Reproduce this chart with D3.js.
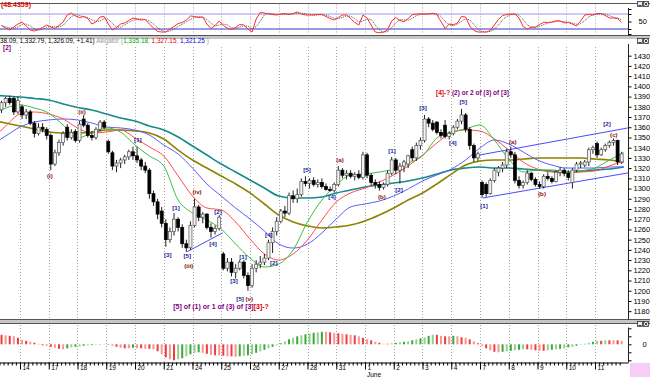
<!DOCTYPE html>
<html>
<head>
<meta charset="utf-8">
<script src="https://cdn.jsdelivr.net/npm/d3@7"></script>
<style>
  body { margin: 0; background: #fff; }
  svg { display: block; font-family: "Liberation Sans", Arial, sans-serif; }
</style>
</head>
<body>
<svg id="chart" width="650" height="377"></svg>
<script>
// trading days on the time axis, 7 hourly bars each
const days = ["13", "14", "17", "18", "19", "20", "21", "24", "25", "26", "27", "28", "31", "1", "2", "3", "4", "7", "8", "9", "10", "11"];
const barsPerDay = 7;
const firstBar = 2; // first two bars of the 13th are off screen

// hourly candles [open, high, low, close]
const candles = [
  [1377,1386,1374,1384],[1384,1390,1380,1388],[1388,1391,1382,1384],[1388,1390,1372,1375],[1375,1390,1373,1386],
  [1380,1382,1368,1372],[1372,1378,1368,1375],[1375,1377,1362,1364],[1364,1366,1350,1354],[1354,1364,1352,1360],[1360,1364,1355,1358],[1358,1360,1348,1352],
  [1352,1354,1318,1324],[1324,1338,1322,1335],[1335,1348,1332,1345],[1345,1356,1342,1354],[1360,1363,1347,1350],[1350,1358,1348,1355],[1356,1358,1345,1347],
  [1347,1366,1345,1363],[1368,1372,1360,1362],[1362,1364,1350,1352],[1352,1356,1347,1350],[1350,1360,1348,1358],[1358,1367,1356,1365],[1365,1367,1358,1360],
  [1346,1348,1334,1336],[1335,1337,1318,1322],[1322,1328,1316,1325],[1325,1330,1320,1328],[1328,1333,1324,1331],[1331,1338,1328,1336],[1336,1341,1328,1332],
  [1332,1341,1325,1328],[1328,1330,1318,1322],[1322,1326,1315,1318],[1318,1320,1290,1295],[1295,1298,1283,1287],[1287,1290,1270,1275],[1278,1282,1262,1266],
  [1266,1270,1243,1250],[1250,1262,1247,1258],[1258,1276,1254,1270],[1270,1272,1258,1262],[1262,1265,1242,1246],[1246,1250,1238,1242],[1242,1268,1240,1264],
  [1264,1290,1262,1282],[1282,1284,1268,1272],[1272,1277,1266,1275],[1275,1276,1260,1262],[1262,1266,1252,1258],[1258,1264,1255,1261],[1261,1274,1259,1272],
  [1236,1238,1220,1222],[1222,1232,1219,1228],[1228,1232,1214,1218],[1218,1226,1212,1222],[1222,1230,1220,1228],[1228,1230,1212,1215],[1215,1218,1200,1205],
  [1205,1226,1203,1222],[1222,1230,1218,1226],[1226,1234,1222,1228],[1228,1236,1225,1232],[1232,1250,1230,1247],[1247,1262,1237,1258],[1258,1272,1254,1268],
  [1268,1280,1266,1278],[1278,1283,1272,1276],[1276,1296,1274,1293],[1293,1298,1286,1290],[1290,1300,1286,1294],[1294,1310,1292,1307],[1307,1312,1302,1305],
  [1305,1310,1300,1308],[1308,1311,1302,1304],[1304,1309,1301,1306],[1306,1310,1300,1302],[1302,1305,1298,1299],[1299,1302,1297,1298],[1298,1306,1296,1304],
  [1304,1322,1302,1318],[1318,1320,1310,1313],[1313,1318,1309,1315],[1315,1318,1310,1312],[1312,1316,1308,1314],[1314,1318,1309,1311],[1311,1336,1309,1333],
  [1333,1335,1310,1313],[1313,1315,1303,1306],[1306,1309,1300,1304],[1304,1307,1298,1301],[1301,1306,1299,1304],[1304,1318,1302,1315],[1315,1331,1313,1328],
  [1328,1330,1314,1318],[1318,1325,1305,1322],[1322,1328,1316,1326],[1324,1333,1320,1332],[1338,1341,1327,1330],[1330,1345,1327,1342],[1342,1350,1338,1347],
  [1347,1372,1345,1368],[1368,1370,1360,1364],[1364,1367,1356,1358],[1365,1366,1353,1355],[1355,1358,1349,1352],[1362,1367,1349,1351],[1351,1356,1348,1354],
  [1354,1362,1352,1360],[1360,1368,1358,1366],[1366,1378,1363,1372],[1372,1374,1355,1358],[1358,1360,1338,1342],[1342,1344,1326,1330],[1330,1336,1327,1334],
  [1306,1308,1291,1294],[1304,1306,1292,1295],[1295,1310,1294,1308],[1308,1320,1306,1318],[1316,1322,1312,1320],[1320,1326,1316,1323],[1323,1339,1320,1336],
  [1336,1341,1330,1333],[1333,1336,1305,1308],[1308,1312,1300,1303],[1303,1308,1300,1306],[1306,1318,1304,1315],[1315,1316,1307,1309],[1309,1311,1302,1304],
  [1304,1307,1300,1302],[1302,1314,1300,1312],[1312,1316,1308,1310],[1310,1312,1305,1307],[1307,1318,1306,1316],[1316,1321,1312,1318],[1318,1320,1312,1315],
  [1315,1318,1308,1311],[1306,1320,1300,1318],[1318,1326,1316,1324],[1324,1327,1320,1325],[1323,1328,1321,1326],[1326,1340,1322,1338],[1338,1342,1334,1340],
  [1344,1346,1330,1333],[1333,1340,1332,1338],[1338,1344,1336,1342],[1342,1347,1340,1345],[1345,1349,1342,1347],[1347,1348,1323,1326],[1326,1336,1324,1334]
];

// stochastic %K per bar
const stochK = [
  34,24,16,28,40, 48,32,16,12,18,26,36, 28,22,34,48,76,84,72, 66,70,62,40,48,68,70,
  40,16,26,40,44,54,64, 60,56,58,40,24,10,8, 8,20,30,42,46,56,72, 70,66,68,40,22,34,52,
  34,24,18,26,38,36,20, 8,60,86,84,80,78,76, 80,82,78,82,88,80,76, 76,76,78,78,70,62,56,
  66,76,76,62,46,36,76, 64,36,8,5,8,16,52, 66,54,49,62,77,80,80, 80,80,83,78,50,22,40,
  37,44,70,68,32,14,8, 8,8,14,36,58,74,78, 80,80,64,30,20,28,28, 38,47,46,48,53,52,44,
  46,40,32,52,76,78,76, 82,82,74,64,64,62,46
];

// MACD histogram per bar
const macdHist = [
  9.5,9,8.5,8,6.5, 4.5,3.5,2.5,1.5,0.5,-1,-1.5, -2.5,-3.5,-4.5,-5,-4,-3,-2.5, -2,-1.5,-1,-0.8,-0.5,-0.3,-0.2,
  -0.5,-1.5,-2.5,-3.5,-4,-4,-3.5, -4,-4,-4.5,-4.5,-5,-7,-10, -13,-15,-16,-15,-14,-12,-10,
  -8.5,-8,-8.5,-9.5,-10.5,-11,-11, -11.5,-12,-12,-12.5,-12,-11.5,-11, -10,-8.5,-7,-5.5,-4,-2.5,-1,
  1,3,5,6.5,8,9,10, 11,11.5,12,12.5,12.5,12,11.5, 11,10.5,10,9.5,9,8,6.5, 5,4,2.5,1.5,0.5,0.5,1,
  1.5,2,2.5,3,4,5,6, 7,8.5,9.5,9.5,8.5,8,8, 8.5,8,7,6.5,5,3,1, -1.5,-4,-6,-7.5,-8,-7.5,-7,
  -6.5,-6,-5.5,-5,-5,-5.5,-6, -6.5,-6.5,-6,-5.5,-5,-4.5,-4, -3,-2.5,-1.5,-0.5,0.5,1.5,2.5,
  3.5,3.5,4,4,4,4,3.5
];

// moving averages, one reading every half day
const maStep = 3.5;
const longMA = [1391.5,1390.6,1389.6,1388.1,1386.7,1382.7,1379.3,1376.9,1373.0,1369.0,1366.1,1361.2,1357.3,1350.4,1341.6,1332.8,1324.0,1316.2,1308.4,1300.5,1292.7,1290.8,1290.8,1291.7,1295.7,1298.6,1301.5,1303.5,1305.4,1307.4,1310.3,1314.2,1318.2,1320.1,1321.1,1320.1,1320.1,1319.1,1318.2,1317.2,1316.2,1317.2,1318.2,1319.1,1321.1];
const midMA = [1367.1,1364.1,1361.2,1358.3,1355.3,1354.4,1354.4,1355.3,1357.3,1357.3,1356.3,1354.4,1348.5,1337.7,1327.9,1320.1,1312.3,1304.5,1295.7,1284.9,1274.1,1267.3,1263.4,1261.4,1262.4,1264.3,1268.3,1274.1,1281.0,1288.8,1295.7,1304.5,1314.2,1323.0,1327.0,1327.9,1327.9,1328.9,1329.9,1329.9,1329.9,1329.9,1328.9,1327.9,1326.0];
const jaw = [1342.6,1351.4,1360.2,1365.1,1367.1,1368.1,1367.1,1364.1,1360.2,1359.3,1357.3,1352.4,1342.6,1333.8,1320.1,1304.5,1292.7,1281.0,1270.2,1258.5,1245.7,1241.8,1245.7,1256.5,1270.2,1282.0,1284.9,1287.8,1292.7,1299.6,1307.4,1313.3,1319.1,1327.9,1339.7,1347.5,1343.6,1335.8,1327.9,1323.0,1320.1,1320.1,1320.1,1321.1,1321.25];
const teeth = [1347.5,1361.2,1372.9,1374.9,1372.9,1368.1,1359.3,1354.4,1355.3,1357.3,1349.5,1340.7,1331.9,1312.3,1292.7,1281.0,1279.0,1267.3,1250.6,1236.0,1230.1,1236.0,1249.7,1269.2,1286.9,1295.7,1300.5,1306.4,1313.3,1322.1,1332.8,1344.6,1354.4,1357.3,1356.3,1348.5,1337.7,1326.0,1319.1,1316.2,1315.2,1316.2,1317.2,1322.1,1327.15];
const lips = [1372.0,1378.8,1381.8,1378.8,1373.9,1362.2,1349.5,1354.4,1359.3,1355.3,1342.6,1331.9,1322.1,1288.8,1276.1,1269.2,1260.4,1245.7,1232.0,1223.2,1226.2,1239.9,1267.3,1288.8,1303.5,1313.3,1314.2,1316.2,1319.1,1325.0,1331.9,1349.5,1355.3,1358.3,1362.2,1347.5,1328.9,1316.2,1318.2,1318.2,1316.2,1317.2,1320.1,1327.9,1335.18];

const priceTicks = d3.range(1180, 1431, 10);

// trend lines [bar1, price1, bar2, price2]
const trendLines = [
  [47.7, 1238.2, 56.4, 1256.8],
  [119.0, 1332.9, 155.0, 1359.3],
  [119.7, 1290.8, 155.0, 1315.3]
];

// wave counts: bar position, price, text, style
const waveLabels = [
  [14.3, 1312.3, "(i)", "red"], [22.1, 1374.9, "(ii)", "red"], [48.1, 1224, "(iii)", "red"],
  [50.1, 1296.6, "(iv)", "red"], [62.8, 1192, "(v)", "red"],
  [84.9, 1328, "(a)", "red"], [95.1, 1291.8, "(b)", "red"],
  [127.0, 1345.6, "(a)", "red"], [134.1, 1294.7, "(b)", "red"], [151.6, 1352.4, "(c)", "red"],
  [35.7, 1347.5, "[1]", "blue"], [45.0, 1281, "[1]", "blue"], [55.2, 1277, "[2]", "blue"],
  [43.0, 1235, "[3]", "blue"], [47.7, 1234, "[5]", "blue"], [54.0, 1245.8, "[4]", "blue"],
  [59.1, 1209.6, "[3]", "blue"], [61.3, 1233.1, "[1]", "blue"], [60.6, 1192, "[5]", "blue"],
  [67.6, 1254.6, "[4]", "blue"], [68.8, 1227.2, "[2]", "blue"], [76.9, 1318.2, "[5]", "blue"],
  [83.0, 1291.8, "[4]", "blue"], [97.6, 1336.8, "[1]", "blue"], [99.3, 1298.6, "[2]", "blue"],
  [105.1, 1378.8, "[3]", "blue"], [112.4, 1344.6, "[4]", "blue"], [114.9, 1384.7, "[5]", "blue"],
  [120.0, 1282.9, "[1]", "blue"], [149.9, 1363.2, "[2]", "blue"]
];

const colors = {
  red: "#8e1010", blue: "#1c1c9c", purple: "#800080", alert: "#e00000",
  longMA: "#168a8a", midMA: "#8a8400", jaw: "#5a5aff", teeth: "#ff4a4a", lips: "#3cbf3c"
};

const svg = d3.select("#chart");
const plotRight = 628.5;
const stochBox = { top: 3.5, bottom: 35.5 };
const mainBox = { top: 39.5, bottom: 319.5 };
const macdBox = { top: 324, bottom: 362.5 };

const x = d3.scaleLinear().domain([0, days.length * barsPerDay]).range([-8.75, 623.75]);
const yMain = d3.scaleLinear().domain([1180, 1430]).range([311.2, 55.7]);
const yStoch = d3.scaleLinear().domain([0, 100]).range([34, 9]);
const yMacd = d3.scaleLinear().domain([-17, 17]).range([361.3, 327.3]);

const bars = candles.map((c, n) => ({ i: firstBar + n, o: c[0], h: c[1], l: c[2], c: c[3] }));
const cx = i => x(i + 0.5);
const dayStarts = d3.range(1, days.length).map(k => k * barsPerDay);

// clip paths for the three panes
const defs = svg.append("defs");
[["clipStoch", stochBox], ["clipMain", mainBox], ["clipMacd", macdBox]].forEach(([id, b]) => {
  defs.append("clipPath").attr("id", id)
    .append("rect").attr("x", 0).attr("y", b.top).attr("width", plotRight).attr("height", b.bottom - b.top);
});

// separators between panes
svg.append("rect").attr("x", 0).attr("y", 36).attr("width", 650).attr("height", 3).attr("fill", "#c6c6c6");
svg.append("rect").attr("x", 0).attr("y", 320).attr("width", 650).attr("height", 3).attr("fill", "#c6c6c6");
[3.5, 35.5, 319.5, 323.5].forEach(yy => {
  svg.append("line").attr("x1", 0).attr("x2", 650).attr("y1", yy).attr("y2", yy)
    .attr("stroke", "#555").attr("stroke-width", 1);
});

// dotted day grid in every pane
[stochBox, { top: 46, bottom: 319 }, macdBox].forEach(b => {
  svg.append("g").selectAll("line").data(dayStarts).enter().append("line")
    .attr("x1", d => Math.round(x(d)) + 0.5).attr("x2", d => Math.round(x(d)) + 0.5)
    .attr("y1", b.top + 1).attr("y2", b.bottom - 1)
    .attr("stroke", "#a8a8a8").attr("stroke-dasharray", "1,2");
});

// ---- stochastic pane
const stoch = svg.append("g").attr("clip-path", "url(#clipStoch)");
[[80, "#9a9af0"], [20, "#3434cc"]].forEach(([v, col]) => {
  stoch.append("line").attr("x1", 0).attr("x2", plotRight)
    .attr("y1", yStoch(v)).attr("y2", yStoch(v)).attr("stroke", col).attr("stroke-width", 1.2);
});
const stochD = stochK.map((v, n) => d3.mean(stochK.slice(Math.max(0, n - 2), n + 1)));
const stochLine = d3.line().x((d, n) => cx(firstBar + n)).y(d => yStoch(d));
stoch.append("path").datum(stochD).attr("d", stochLine)
  .attr("fill", "none").attr("stroke", "#555").attr("stroke-width", 1).attr("stroke-dasharray", "1,1");
stoch.append("path").datum(stochK).attr("d", stochLine)
  .attr("fill", "none").attr("stroke", "#ff2a2a").attr("stroke-width", 1);

svg.append("text").attr("x", 1).attr("y", 6.5).attr("font-size", 7).attr("font-weight", "bold")
  .attr("fill", colors.alert).text("(48.4359)");

// ---- main pane
const main = svg.append("g").attr("clip-path", "url(#clipMain)");
const maLine = d3.line().x(d => x(d[0])).y(d => yMain(d[1])).curve(d3.curveMonotoneX);
const maPts = arr => arr.map((v, k) => [k * maStep, v]);
[[longMA, colors.longMA, 1.6], [midMA, colors.midMA, 1.6], [jaw, colors.jaw, 1], [teeth, colors.teeth, 1], [lips, colors.lips, 1]]
  .forEach(([arr, col, w]) => {
    main.append("path").datum(maPts(arr)).attr("d", maLine)
      .attr("fill", "none").attr("stroke", col).attr("stroke-width", w);
  });

main.selectAll(".trend").data(trendLines).enter().append("line").attr("class", "trend")
  .attr("x1", d => x(d[0])).attr("y1", d => yMain(d[1]))
  .attr("x2", d => x(d[2])).attr("y2", d => yMain(d[3]))
  .attr("stroke", "#4a4aff").attr("stroke-width", 1);

const candleG = main.selectAll(".candle").data(bars).enter().append("g").attr("class", "candle");
candleG.append("line")
  .attr("x1", d => cx(d.i)).attr("x2", d => cx(d.i))
  .attr("y1", d => yMain(d.h)).attr("y2", d => yMain(d.l))
  .attr("stroke", "#222").attr("stroke-width", 1);
candleG.append("rect")
  .attr("x", d => cx(d.i) - 1.5).attr("width", 3)
  .attr("y", d => yMain(Math.max(d.o, d.c)))
  .attr("height", d => Math.max(1, Math.abs(yMain(d.o) - yMain(d.c))))
  .attr("fill", d => d.c >= d.o ? "#f2f2f2" : "#000")
  .attr("stroke", d => d.c >= d.o ? "#555" : "#000").attr("stroke-width", 0.7);

main.selectAll(".wave").data(waveLabels).enter().append("text").attr("class", "wave")
  .attr("x", d => x(d[0])).attr("y", d => yMain(d[1]))
  .attr("dy", "0.35em").attr("text-anchor", "middle")
  .attr("font-size", 6.2).attr("font-weight", "bold")
  .attr("fill", d => colors[d[3]]).text(d => d[2]);

const topNote = main.append("text").attr("x", x(108.3)).attr("y", yMain(1393.5)).attr("dy", "0.35em")
  .attr("font-size", 6.5).attr("font-weight", "bold");
topNote.append("tspan").attr("fill", colors.alert).text("[4]-? ");
topNote.append("tspan").attr("fill", colors.purple).text("(2) or 2 of (3) of [3]");

const lowNote = main.append("text").attr("x", x(44.3)).attr("y", yMain(1184.2)).attr("dy", "0.35em")
  .attr("font-size", 7).attr("font-weight", "bold");
lowNote.append("tspan").attr("fill", colors.purple).text("[5] of (1) or 1 of (3) of [3]");
lowNote.append("tspan").attr("fill", colors.alert).text("[3]-?");

main.append("text").attr("x", 3).attr("y", yMain(1437.5)).attr("dy", "0.35em")
  .attr("font-size", 6.5).attr("font-weight", "bold").attr("fill", colors.purple).text("[2]");

// pane header
const header = svg.append("text").attr("x", 0).attr("y", 43).attr("font-size", 6.4);
header.append("tspan").attr("fill", "#000").text("38.09, 1,332.79, 1,326.09, +1.41) ");
header.append("tspan").attr("fill", "#9a9a9a").text("Alligator (");
header.append("tspan").attr("fill", "#00a000").text("1,335.18");
header.append("tspan").attr("fill", "#9a9a9a").text(", ");
header.append("tspan").attr("fill", "#e00000").text("1,327.15");
header.append("tspan").attr("fill", "#9a9a9a").text(", ");
header.append("tspan").attr("fill", "#0000e0").text("1,321.25");
header.append("tspan").attr("fill", "#9a9a9a").text(" )");

// ---- MACD histogram pane
const macd = svg.append("g").attr("clip-path", "url(#clipMacd)");
macd.selectAll("rect").data(macdHist).enter().append("rect")
  .attr("x", (d, n) => cx(firstBar + n) - 1).attr("width", 2)
  .attr("y", d => yMacd(Math.max(0, d)))
  .attr("height", d => Math.abs(yMacd(d) - yMacd(0)))
  .attr("fill", (d, n) => (n > 0 && d > macdHist[n - 1]) ? "#3aa83a" : "#f03c3c")
  .attr("opacity", (d, n) => n % 2 ? 0.55 : 1);

// ---- right axes
const axisFont = g => g.attr("font-family", null).attr("font-size", 7.5).call(s => s.select(".domain").remove());
svg.append("g").attr("transform", `translate(${plotRight},0)`)
  .call(d3.axisRight(yMain).tickValues(priceTicks).tickSize(3).tickFormat(d3.format("d")))
  .call(axisFont)
  .call(g => g.selectAll("text").attr("x", 5));
svg.append("g").attr("transform", `translate(${plotRight},0)`)
  .call(d3.axisRight(yStoch).tickValues([0, 20, 50, 80, 100]).tickSize(3).tickFormat(d => d === 50 ? "50" : ""))
  .call(axisFont)
  .call(g => g.selectAll("text").attr("x", 10));
svg.append("g").attr("transform", `translate(${plotRight},0)`)
  .call(d3.axisRight(yMacd).tickValues([-16, -8, 0, 8, 16]).tickSize(3).tickFormat(d => d === 0 ? "0" : ""))
  .call(axisFont)
  .call(g => g.selectAll("text").attr("x", 14));
[[8, 35.5], [44, 319.5], [327.5, 362.5]].forEach(([a, b]) => {
  svg.append("line").attr("x1", plotRight).attr("x2", plotRight).attr("y1", a).attr("y2", b)
    .attr("stroke", "#222");
});

// ---- time axis
const timeAxis = svg.append("g").attr("transform", `translate(0,${macdBox.bottom})`);
timeAxis.call(d3.axisBottom(x).tickValues(d3.range(1, days.length * barsPerDay)).tickSize(3).tickSizeOuter(0).tickFormat(""))
  .call(g => g.select(".domain").attr("d", `M0,0.5H${plotRight}`));
svg.append("g").attr("transform", `translate(0,${macdBox.bottom})`)
  .call(d3.axisBottom(x).tickValues(dayStarts).tickSize(7).tickSizeOuter(0).tickFormat(k => days[k / barsPerDay]))
  .call(g => g.select(".domain").remove())
  .attr("font-family", null).attr("font-size", 6.5)
  .call(g => g.selectAll("text").attr("x", 2).attr("y", 2.5).attr("text-anchor", "start"));
svg.append("text").attr("x", x(13 * barsPerDay) + 2).attr("y", 376.5).attr("font-size", 6.5).text("June");

svg.append("rect").attr("x", 630).attr("y", 363).attr("width", 20).attr("height", 14).attr("fill", "#f6cdf6");

// pane buttons
[1, 38, 321].forEach(yy => {
  [637, 643].forEach((xx, n) => {
    const g = svg.append("g");
    g.append("rect").attr("x", xx + 0.5).attr("y", yy + 0.5).attr("width", 5).attr("height", 5)
      .attr("fill", "#eee").attr("stroke", "#333").attr("stroke-width", 0.8);
    g.append("path").attr("d", n ? `M${xx + 1.5},${yy + 1.5}l3,3m0,-3l-3,3` : `M${xx + 1.5},${yy + 4.5}h3`)
      .attr("stroke", "#111").attr("stroke-width", 0.8);
  });
});
</script>
</body>
</html>
